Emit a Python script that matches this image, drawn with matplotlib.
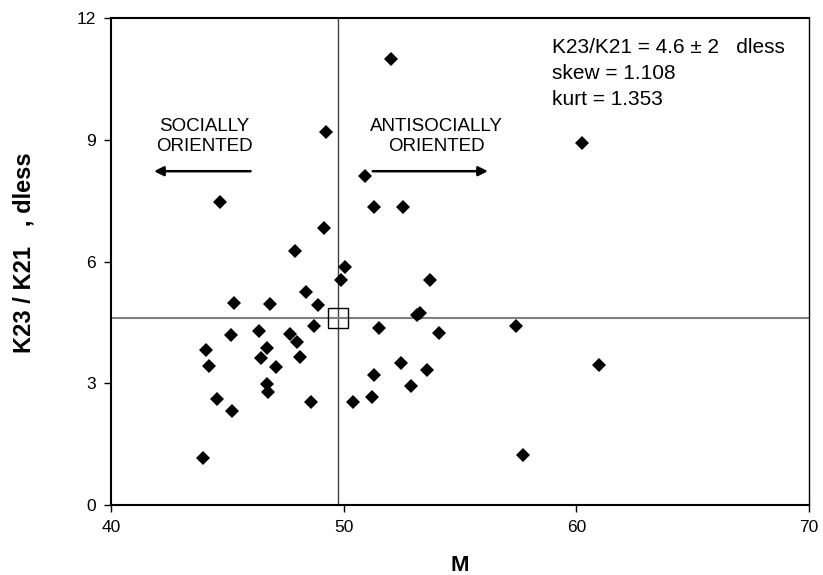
import matplotlib
matplotlib.use('Agg')
import matplotlib.pyplot as plt

plt.rcParams['font.family'] = ['Liberation Sans', 'DejaVu Sans']

# M values and K23/K21 ratios
m_vals = [52.02, 49.23, 50.92, 44.68, 51.32, 52.56, 49.17, 47.89, 60.23, 50.06,
          49.87, 53.71, 48.39, 45.27, 46.82, 48.88, 53.28, 53.16, 48.71, 45.14,
          46.35, 47.68, 47.99, 51.52, 54.10, 44.08, 46.72, 46.45, 48.12, 44.23,
          47.08, 52.45, 53.57, 51.32, 46.69, 46.76, 52.89, 44.56, 51.22, 45.21,
          48.58, 50.39, 43.97, 57.39, 60.97, 57.72]
k_vals = [10.99, 9.20, 8.10, 7.48, 7.34, 7.34, 6.82, 6.27, 8.93, 5.86,
          5.56, 5.56, 5.25, 4.97, 4.95, 4.93, 4.74, 4.68, 4.41, 4.19,
          4.29, 4.22, 4.03, 4.36, 4.25, 3.81, 3.87, 3.62, 3.64, 3.43,
          3.41, 3.50, 3.33, 3.21, 2.98, 2.79, 2.94, 2.61, 2.66, 2.33,
          2.54, 2.54, 1.15, 4.42, 3.45, 1.23]

mean_m = 49.74
mean_k = 4.6
x_ticks = [40, 50, 60, 70]
y_ticks = [0, 3, 6, 9, 12]
stats_lines = ['K23/K21 = 4.6 \u00b1 2   dless', 'skew = 1.108', 'kurt = 1.353']

fig = plt.figure(figsize=(8.23, 5.75), dpi=100)
ax = fig.add_axes([0.1349, 0.1217, 0.8481, 0.8465])

ax.axvline(mean_m, color='#404040', lw=1.0, zorder=1)
ax.axhline(mean_k, color='#808080', lw=1.5, zorder=1)
ax.plot(m_vals, k_vals, 'D', color='black', ms=7, mew=0, zorder=3)
ax.plot([mean_m], [mean_k], 's', mfc='none', mec='black', ms=15, mew=1.0, zorder=4)

ax.set_xlim(40, 70)
ax.set_ylim(0, 12)
ax.set_xticks(x_ticks)
ax.set_yticks(y_ticks)
ax.tick_params(direction='out', length=5, width=1, labelsize=12.5, pad=6)

for side in ['left', 'bottom', 'top']:
    ax.spines[side].set_linewidth(1.5)
ax.spines['right'].set_linewidth(1.0)

ax.set_xlabel('M', fontsize=16, fontweight='bold', labelpad=14)
ax.set_ylabel('K23 / K21   , dless', fontsize=17, fontweight='bold')
ax.yaxis.set_label_coords(-0.108, 0.518)

for i, line in enumerate(stats_lines):
    ax.text(0.632, 0.928 - i * 0.053, line, transform=ax.transAxes,
            fontsize=15, ha='left', va='baseline')

ax.text(44.0, 8.63, 'SOCIALLY\nORIENTED', ha='center', va='bottom',
        fontsize=13.5, linespacing=1.2)
ax.text(54.0, 8.63, 'ANTISOCIALLY\nORIENTED', ha='center', va='bottom',
        fontsize=13.5, linespacing=1.2)

ax.annotate('', xy=(41.85, 8.23), xytext=(46.0, 8.23),
            arrowprops=dict(arrowstyle='-|>', color='black', lw=1.8,
                            mutation_scale=14, shrinkA=0, shrinkB=0))
ax.annotate('', xy=(56.2, 8.23), xytext=(51.25, 8.23),
            arrowprops=dict(arrowstyle='-|>', color='black', lw=1.8,
                            mutation_scale=14, shrinkA=0, shrinkB=0))

fig.savefig('out.png', dpi=100)
